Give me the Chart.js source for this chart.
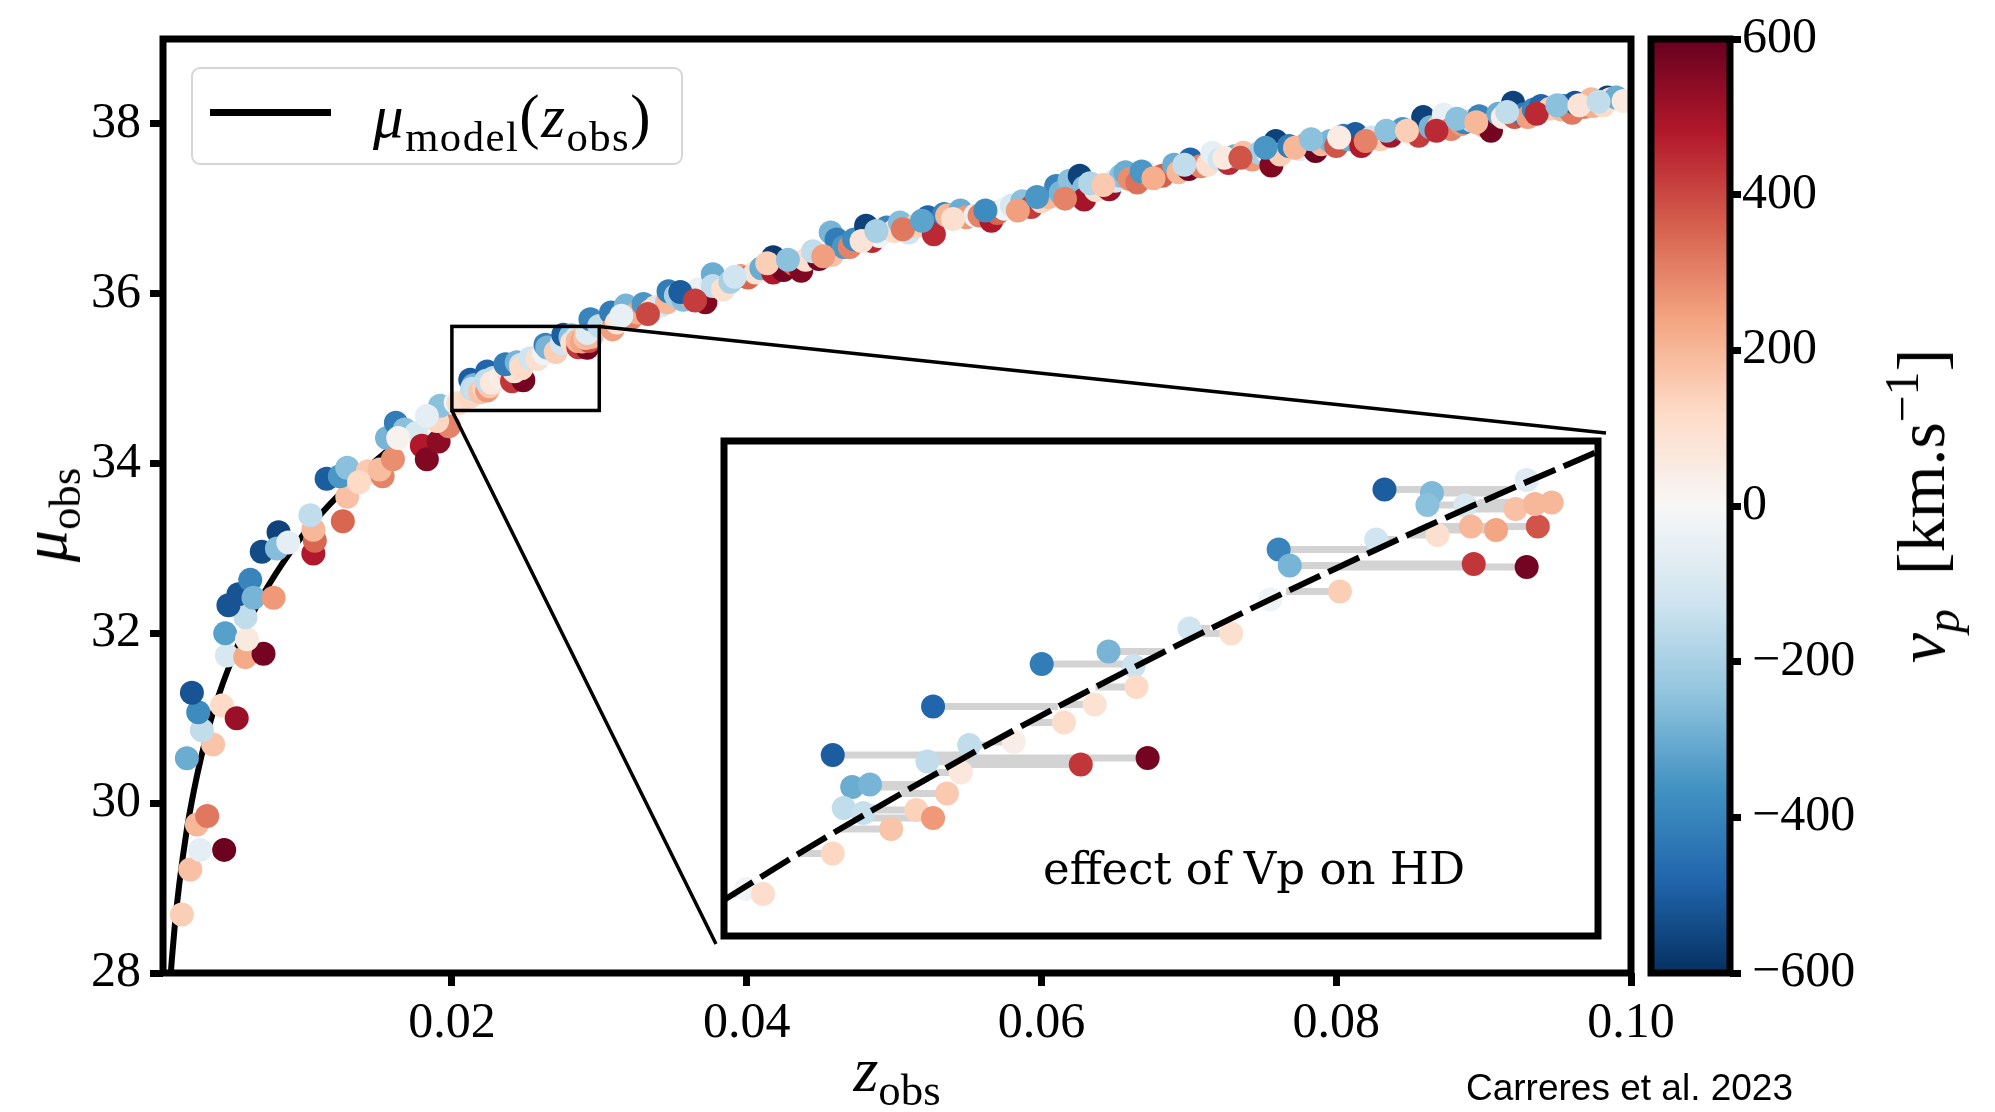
<!DOCTYPE html>
<html><head><meta charset="utf-8">
<script src="https://cdn.jsdelivr.net/npm/chart.js@4.4.0/dist/chart.umd.min.js"></script>
<style>
html,body{margin:0;padding:0;background:#fff;}
#wrap{position:relative;width:1995px;height:1112px;overflow:hidden;background:#fff;}
canvas{position:absolute;}
.t{position:absolute;font-family:'Liberation Serif',serif;color:#000;white-space:nowrap;line-height:1;z-index:5;}
.sb{font-size:0.7em;position:relative;top:0.32em;}
.sp{font-size:0.7em;position:relative;top:-0.55em;}
</style></head><body>
<div id="wrap">
<canvas id="main" width="1995" height="1112" style="left:0;top:0;"></canvas>
<canvas id="inset" width="898" height="519" style="left:712px;top:429px;"></canvas>
<canvas id="cbar" width="230" height="1112" style="left:1640px;top:0;"></canvas>

<div id="legend" style="position:absolute;left:191px;top:67px;width:488px;height:94px;border:2px solid #d6d6d6;border-radius:9px;background:rgba(255,255,255,0.85);z-index:4;">
  <div style="position:absolute;left:17px;top:40px;width:121px;height:7px;background:#000;"></div>
  <div class="t" style="left:180px;top:17px;font-size:61px;letter-spacing:1.5px;"><i>μ</i><span class="sb">model</span>(<i>z</i><span class="sb">obs</span>)</div>
</div>
<div class="t" style="left:45px;top:515px;font-size:64px;transform:translate(-50%,-50%) rotate(-90deg);"><i>μ</i><span class="sb">obs</span></div>
<div class="t" style="left:897px;top:1038px;font-size:64px;transform:translateX(-50%);"><i>z</i><span class="sb">obs</span></div>
<div class="t" style="left:1921px;top:506px;font-size:68px;transform:translate(-50%,-50%) rotate(-90deg);"><i>v</i><span class="sb"><i>p</i></span>&nbsp;&nbsp;[km.s<span class="sp">−1</span>]</div>
<div class="t" style="left:1043px;top:846px;font-size:45px;font-family:'DejaVu Serif',serif;">effect of Vp on HD</div>
<div class="t" style="left:1466px;top:1069px;font-size:37px;font-family:'Liberation Sans',Arial,sans-serif;">Carreres et al. 2023</div>
</div>

<script>
// ---------------- data ----------------
const xRange = [0.0004, 0.1];
const yRange = [28, 39];
const xTicks = [0.02, 0.04, 0.06, 0.08, 0.10];
const yTicks = [28, 30, 32, 34, 36, 38];
const cbarRange = [-600, 600];
const cbarTicks = [-600, -400, -200, 0, 200, 400, 600];
const zoomZRange = [0.020, 0.030];
const zoomMuRange = [34.625, 35.615];

// model distance modulus curve (main panel)
const modelZ  = [0.00093,0.0010,0.0012,0.0015,0.0020,0.0025,0.0030,0.0035,0.0040,0.0050,0.0060,0.0070,0.0080,0.0100,0.0125,0.0150,0.0175,0.0200,0.0250,0.0300,0.0350,0.0400,0.0500,0.0600,0.0700,0.0800,0.0900,0.1000];
const modelMu = [28.00,28.16,28.56,29.04,29.67,30.15,30.55,30.89,31.18,31.66,32.06,32.40,32.69,33.18,33.66,34.06,34.40,34.70,35.19,35.59,35.94,36.24,36.74,37.15,37.50,37.80,38.08,38.32];

// model curve inside zoomed panel
const insetModelZ  = [0.0200,0.0210,0.0220,0.0230,0.0240,0.0250,0.0260,0.0270,0.0280,0.0290,0.0300];
const insetModelMu = [34.697,34.805,34.907,35.006,35.100,35.190,35.277,35.360,35.441,35.519,35.594];

// low-redshift supernovae
const lowZ = [0.00168,0.00202,0.00225,0.00270,0.00292,0.00340,0.00455,0.00380,0.00304,0.00279,
  0.00236,0.00440,0.00540,0.00473,0.00462,0.00598,0.00722,0.00610,0.00600,0.00484,
  0.00552,0.00632,0.00654,0.00790,0.00710,0.00824,0.00813,0.00890,0.01060,0.01070,
  0.01060,0.01040,0.01260,0.01290,0.01150,0.01240,0.01290,0.01430,0.01530,0.01560,
  0.01370,0.01510,0.01600,0.01620,0.01680,0.01760,0.01796,0.01830,0.01910,0.01980,
  0.01900,0.01920,0.01830,0.01636];
const lowMu = [28.69,30.53,29.22,29.75,29.45,29.85,29.45,30.69,30.86,31.07,
  31.30,31.15,31.00,31.74,32.00,31.72,31.76,31.93,32.19,32.33,
  32.46,32.63,32.42,32.42,32.96,33.19,33.00,33.07,32.94,33.09,
  33.22,33.39,33.32,33.61,33.82,33.85,33.95,33.91,33.85,34.30,
  33.78,33.93,34.05,34.48,34.40,34.36,34.21,34.05,34.26,34.44,
  34.50,34.68,34.56,34.30];
const lowVp = [150,-300,180,200,-60,320,590,170,-150,-380,
  -520,120,520,-100,-330,230,580,60,-150,-520,
  -520,-400,-280,260,-540,-560,-260,-60,480,350,
  200,-150,350,180,-500,-350,-250,160,300,-280,
  120,190,280,-420,-250,-100,480,560,540,300,
  130,-250,-60,20];

// supernovae inside the zoomed box (also shown in the inset)
const zoomZ = [0.020255,0.020446,0.021244,0.021244,0.021467,0.021670,0.021370,0.021594,0.021913,0.022200,
  0.022392,0.022551,0.022392,0.022328,0.022806,0.022710,0.023316,0.023890,0.024082,0.024847,
  0.024241,0.023635,0.024400,0.024687,0.024719,0.025325,0.025804,0.026250,0.026346,0.026473,
  0.027047,0.027462,0.027557,0.028100,0.028048,0.028163,0.028482,0.028578,0.029184,0.028546,
  0.028833,0.029311,0.029056,0.029279,0.029470,0.029184];
const zoomMu = [34.719,34.709,34.790,34.987,34.923,34.928,34.881,34.871,34.839,34.877,
  34.861,34.910,35.084,34.974,35.007,34.952,35.013,35.052,34.968,34.981,
  35.088,35.169,35.194,35.165,35.123,35.240,35.230,35.298,35.398,35.366,
  35.314,35.418,35.518,35.511,35.487,35.427,35.486,35.369,35.363,35.444,
  35.437,35.444,35.479,35.489,35.492,35.537];
const zoomVp = [-20,110,130,-500,-300,-280,-150,-140,170,140,
  260,160,-480,-150,-150,70,40,110,430,580,
  90,-420,-280,-130,120,-120,100,-30,-400,-280,
  150,-120,-500,-270,-250,100,-100,430,580,200,
  240,380,180,200,200,-80];
// redshift where each grey segment meets the model curve
const zoomZcos = [0.02019,0.02010,0.02085,0.02280,0.02215,0.02220,0.02173,0.02163,0.02132,0.02169,
  0.02153,0.02202,0.02382,0.02266,0.02301,0.02244,0.02307,0.02348,0.02260,0.02274,
  0.02387,0.02476,0.02504,0.02471,0.02425,0.02556,0.02544,0.02624,0.02745,0.02705,
  0.02643,0.02770,0.02897,0.02888,0.02857,0.02781,0.02856,0.02709,0.02701,0.02802,
  0.02793,0.02802,0.02847,0.02860,0.02864,0.02922];

// higher-redshift supernovae
const highZ = [0.0294,0.0300,0.0308,0.0309,0.0312,0.0318,0.0322,0.0326,0.0330,0.0335,
  0.0338,0.0342,0.0346,0.0347,0.0352,0.0357,0.0362,0.0367,0.0372,0.0377,
  0.0377,0.0384,0.0389,0.0396,0.0401,0.0406,0.0410,0.0418,0.0418,0.0425,
  0.0432,0.0437,0.0440,0.0449,0.0458,0.0457,0.0461,0.0466,0.0470,0.0473,
  0.0481,0.0485,0.0490,0.0495,0.0500,0.0504,0.0510,0.0515,0.0523,0.0527,
  0.0534,0.0536,0.0545,0.0549,0.0555,0.0558,0.0566,0.0570,0.0575,0.0580,
  0.0587,0.0593,0.0600,0.0605,0.0610,0.0613,0.0619,0.0626,0.0629,0.0629,
  0.0637,0.0646,0.0650,0.0654,0.0657,0.0660,0.0665,0.0671,0.0682,0.0690,
  0.0693,0.0700,0.0701,0.0708,0.0713,0.0716,0.0721,0.0727,0.0731,0.0737,
  0.0743,0.0748,0.0754,0.0756,0.0759,0.0762,0.0768,0.0775,0.0780,0.0786,
  0.0790,0.0796,0.0800,0.0805,0.0808,0.0813,0.0817,0.0824,0.0830,0.0837,
  0.0845,0.0850,0.0856,0.0859,0.0864,0.0870,0.0873,0.0878,0.0885,0.0887,
  0.0892,0.0897,0.0900,0.0905,0.0910,0.0913,0.0920,0.0921,0.0927,0.0930,
  0.0934,0.0939,0.0945,0.0953,0.0955,0.0960,0.0962,0.0968,0.0973,0.0974,
  0.0981,0.0984,0.0986,0.0990,0.0995];
const highMu = [35.70,35.62,35.78,35.58,35.66,35.86,35.72,35.78,35.88,35.80,
  35.84,35.86,35.90,36.03,35.98,35.93,35.96,36.05,35.90,36.23,
  36.09,36.05,36.14,36.21,36.19,36.25,36.30,36.43,36.25,36.28,
  36.35,36.27,36.40,36.41,36.46,36.72,36.64,36.55,36.55,36.64,
  36.80,36.62,36.68,36.78,36.74,36.84,36.72,36.80,36.90,36.70,
  36.94,36.92,36.98,36.90,36.92,36.92,36.86,36.95,37.00,37.04,
  37.09,37.02,37.09,37.14,37.27,37.19,37.33,37.39,37.25,37.11,
  37.22,37.23,37.33,37.39,37.43,37.35,37.31,37.43,37.39,37.52,
  37.43,37.47,37.58,37.50,37.52,37.66,37.58,37.54,37.62,37.66,
  37.58,37.66,37.66,37.51,37.80,37.64,37.74,37.70,37.76,37.68,
  37.76,37.80,37.74,37.86,37.82,37.88,37.74,37.84,37.82,37.86,
  37.94,37.88,37.86,38.08,37.96,37.98,38.11,37.94,38.00,38.02,
  38.04,38.09,37.98,37.92,38.12,38.08,38.25,38.08,38.11,38.08,
  38.17,38.21,38.18,38.17,38.21,38.13,38.25,38.20,38.29,38.21,
  38.22,38.31,38.29,38.31,38.27];
const highVp = [-400,-150,-420,250,80,-280,300,220,-350,150,
  120,-100,200,-420,-200,-260,250,-40,560,-300,
  -150,100,-200,260,350,80,-300,-580,480,580,
  350,560,100,580,180,-280,-420,-350,300,-380,
  -560,450,-30,-400,120,-260,-120,150,-480,450,
  -400,200,-300,260,-50,300,480,350,-20,-100,
  -250,420,130,200,-400,-280,-250,-560,-260,500,
  100,520,-100,-250,-300,280,330,-40,360,-300,
  200,580,-480,300,100,-60,-120,450,-300,180,
  260,-200,-20,560,-560,150,-420,-80,330,590,
  200,-280,380,-420,-300,-500,480,-120,150,500,
  -350,10,420,-560,-280,180,-50,300,260,-400,
  -150,-400,200,580,-300,40,-560,380,-420,250,
  -400,-480,150,200,-400,320,-520,300,200,220,
  120,-560,100,-300,60];

// further supernovae filling the dense high-redshift band
const bandZ = [0.0315,0.0333,0.0355,0.0365,0.0392,0.0414,0.0428,0.0445,0.0452,0.0478,
  0.0488,0.0506,0.0519,0.0540,0.0562,0.0584,0.0597,0.0616,0.0633,0.0642,
  0.0668,0.0676,0.0697,0.0724,0.0735,0.0752,0.0772,0.0783,0.0802,0.0820,
  0.0834,0.0848,0.0868,0.0882,0.0895,0.0916,0.0936,0.0950,0.0965,0.0978];
const bandMu = [35.74,35.76,36.02,35.92,36.20,36.36,36.40,36.50,36.44,36.62,
  36.74,36.76,36.86,36.88,36.98,36.98,37.14,37.12,37.30,37.28,
  37.44,37.36,37.52,37.60,37.60,37.72,37.72,37.82,37.84,37.80,
  37.92,37.92,37.92,38.06,38.02,38.14,38.12,38.22,38.22,38.26];
const bandVp = [-50,400,-500,420,-120,150,-250,-150,250,80,
  -200,320,-320,100,-380,250,-350,300,-180,160,
  -350,220,-150,60,380,-350,200,-250,50,300,
  -250,150,450,-250,200,-150,450,-250,80,-150];

// ---------------- styling helpers ----------------
const RDBU_R = ['#053061','#2166ac','#4393c3','#92c5de','#d1e5f0','#f7f7f7','#fddbc7','#f4a582','#d6604d','#b2182b','#67001f'];
function hex2rgb(h){return [parseInt(h.slice(1,3),16),parseInt(h.slice(3,5),16),parseInt(h.slice(5,7),16)];}
function cmap(v){
  let t=(v-cbarRange[0])/(cbarRange[1]-cbarRange[0]); t=Math.max(0,Math.min(1,t));
  const p=t*(RDBU_R.length-1); const i=Math.min(Math.floor(p),RDBU_R.length-2); const f=p-i;
  const a=hex2rgb(RDBU_R[i]), b=hex2rgb(RDBU_R[i+1]);
  return 'rgb('+a.map((c,k)=>Math.round(c+(b[k]-c)*f)).join(',')+')';
}
function pts(zs,mus){return zs.map((z,i)=>({x:z,y:mus[i]}));}
const FONT = "'Liberation Serif', serif";
const INSET = {left:716, top:433, width:890, height:511};
const mathLabel = v => (v<0 ? '\u2009\u2212'+Math.abs(v) : String(v));

const allZ  = lowZ.concat(zoomZ, highZ, bandZ);
const allMu = lowMu.concat(zoomMu, highMu, bandMu);
const allVp = lowVp.concat(zoomVp, highVp, bandVp);
const allColors = allVp.map(cmap);

const tickGrid = {display:true, drawOnChartArea:false, drawTicks:true, tickLength:13, tickWidth:7, tickColor:'#000'};

// ---------------- main chart ----------------
const framePlugin = {
  id:'frame',
  afterDatasetsDraw(chart){
    const ctx=chart.ctx, ca=chart.chartArea, xs=chart.scales.x, ys=chart.scales.y;
    ctx.save();
    const x0=xs.getPixelForValue(zoomZRange[0]), x1=xs.getPixelForValue(zoomZRange[1]);
    const y0=ys.getPixelForValue(zoomMuRange[0]), y1=ys.getPixelForValue(zoomMuRange[1]);
    ctx.strokeStyle='#000'; ctx.lineWidth=3.5;
    ctx.strokeRect(x0,y1,x1-x0,y0-y1);
    ctx.beginPath();
    ctx.moveTo(x1,y1); ctx.lineTo(INSET.left+INSET.width, INSET.top);
    ctx.moveTo(x0,y0); ctx.lineTo(INSET.left, INSET.top+INSET.height);
    ctx.stroke();
    ctx.lineWidth=7;
    ctx.strokeRect(ca.left,ca.top,ca.right-ca.left,ca.bottom-ca.top);
    ctx.restore();
  }
};

new Chart(document.getElementById('main'), {
  type:'scatter',
  data:{datasets:[
    {type:'scatter', data:pts(allZ,allMu), pointBackgroundColor:allColors, backgroundColor:allColors,
     pointRadius:12, pointHoverRadius:12, pointBorderWidth:0, borderWidth:0, clip:0},
    {type:'line', data:pts(modelZ,modelMu), borderColor:'#000', borderWidth:6, pointRadius:0,
     fill:false, cubicInterpolationMode:'monotone', clip:0}
  ]},
  options:{
    responsive:false, animation:false, events:[],
    layout:{padding:{left:0, top:39, right:364, bottom:0}},
    plugins:{legend:{display:false}, tooltip:{enabled:false}},
    scales:{
      x:{type:'linear', min:xRange[0], max:xRange[1],
        afterBuildTicks:s=>{s.ticks=xTicks.map(v=>({value:v}));},
        afterFit:s=>{s.height=139;},
        ticks:{font:{family:FONT,size:50}, color:'#000', padding:8, maxRotation:0, autoSkip:false,
               callback:v=>Number(v).toFixed(2)},
        grid:tickGrid, border:{display:false}},
      y:{type:'linear', min:yRange[0], max:yRange[1],
        afterBuildTicks:s=>{s.ticks=yTicks.map(v=>({value:v}));},
        afterFit:s=>{s.width=163;},
        ticks:{font:{family:FONT,size:50}, color:'#000', padding:9, autoSkip:false, callback:v=>String(v)},
        grid:tickGrid, border:{display:false}}
    }
  },
  plugins:[framePlugin]
});

// ---------------- inset chart ----------------
const segData=[];
zoomZ.forEach((z,i)=>{segData.push({x:z,y:zoomMu[i]},{x:zoomZcos[i],y:zoomMu[i]},{x:zoomZcos[i],y:null});});
const insetFrame = {
  id:'insetFrame',
  beforeDraw(chart){const c=chart.ctx,ca=chart.chartArea;c.save();c.fillStyle='#fff';c.fillRect(ca.left,ca.top,ca.right-ca.left,ca.bottom-ca.top);c.restore();},
  afterDatasetsDraw(chart){const c=chart.ctx,ca=chart.chartArea;c.save();c.strokeStyle='#000';c.lineWidth=7;c.strokeRect(ca.left,ca.top,ca.right-ca.left,ca.bottom-ca.top);c.restore();}
};
const zoomColors = zoomVp.map(cmap);
new Chart(document.getElementById('inset'), {
  type:'scatter',
  data:{datasets:[
    {type:'line', data:pts(insetModelZ,insetModelMu), borderColor:'#000', borderWidth:6, borderDash:[34,9],
     pointRadius:0, fill:false, cubicInterpolationMode:'monotone', clip:0},
    {type:'scatter', data:pts(zoomZ,zoomMu), pointBackgroundColor:zoomColors, backgroundColor:zoomColors,
     pointRadius:12, pointHoverRadius:12, pointBorderWidth:0, borderWidth:0, clip:0},
    {type:'line', data:segData, borderColor:'rgba(200,200,200,0.8)', borderWidth:7, pointRadius:0,
     spanGaps:false, fill:false, clip:0}
  ]},
  options:{
    responsive:false, animation:false, events:[],
    layout:{padding:4},
    plugins:{legend:{display:false}, tooltip:{enabled:false}},
    scales:{
      x:{type:'linear', display:false, min:zoomZRange[0], max:zoomZRange[1]},
      y:{type:'linear', display:false, min:zoomMuRange[0], max:zoomMuRange[1]}
    }
  },
  plugins:[insetFrame]
});

// ---------------- colorbar ----------------
const cbarFrame = {
  id:'cbarFrame',
  afterDatasetsDraw(chart){const c=chart.ctx,ca=chart.chartArea;c.save();c.strokeStyle='#000';c.lineWidth=7;c.strokeRect(ca.left,ca.top,ca.right-ca.left,ca.bottom-ca.top);c.restore();}
};
new Chart(document.getElementById('cbar'), {
  type:'bar',
  data:{labels:[''], datasets:[{data:[cbarRange], borderWidth:0, barPercentage:1, categoryPercentage:1,
    backgroundColor:(context)=>{
      const ch=context.chart, ca=ch.chartArea; if(!ca) return '#fff';
      const g=ch.ctx.createLinearGradient(0,ca.bottom,0,ca.top);
      RDBU_R.forEach((c,i)=>g.addColorStop(i/(RDBU_R.length-1),c));
      return g;
    }}]},
  options:{
    responsive:false, animation:false, events:[],
    layout:{padding:{left:11, top:39, bottom:139, right:0}},
    plugins:{legend:{display:false}, tooltip:{enabled:false}},
    scales:{
      x:{display:false},
      y:{position:'right', min:cbarRange[0], max:cbarRange[1],
        afterBuildTicks:s=>{s.ticks=cbarTicks.map(v=>({value:v}));},
        afterFit:s=>{s.width=140;},
        ticks:{font:{family:FONT,size:50}, color:'#000', padding:1, autoSkip:false, callback:v=>mathLabel(v)},
        grid:Object.assign({}, tickGrid, {tickLength:11}), border:{display:false}}
    }
  },
  plugins:[cbarFrame]
});
</script>
</body></html>
